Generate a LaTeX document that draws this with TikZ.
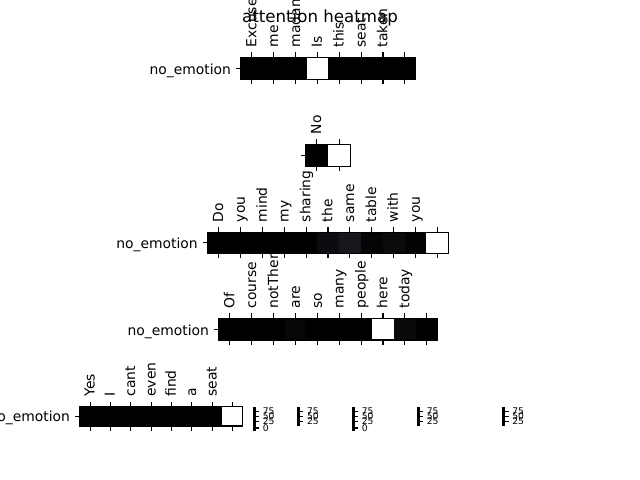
\documentclass[tikz,border=0pt]{standalone}
\usepackage{fontspec}
\setmainfont{DejaVu Sans}
\definecolor{rthree5}{HTML}{0C0C10}
\definecolor{rthree6}{HTML}{16161B}
\definecolor{rthree7}{HTML}{050507}
\definecolor{rthree8}{HTML}{0B0B0E}
\definecolor{rthree9}{HTML}{030304}
\definecolor{rfour3}{HTML}{060608}
\definecolor{rfour8}{HTML}{0A0A0D}
\newcommand{\heatrow}[8]{% #1 name, #2 x0, #3 y0, #4 cell size, #5 cell height, #6 n, #7 colours, #8 labels
  \foreach \hcol [count=\i from 0] in {#7} {
    \fill[\hcol] ({#2+\i*#4},#3) rectangle ({#2+(\i+1)*#4},{#3+#5});
    \draw[tickln] ({#2+(\i+0.5)*#4},#3) -- ++(0,-4.86);
    \draw[tickln] ({#2+(\i+0.5)*#4},{#3+#5}) -- ++(0,4.86);
  }
  \draw[spine] (#2,#3) rectangle ({#2+#6*#4},{#3+#5});
  \draw[tickln] (#2,{#3+#5/2}) -- ++(-4.86,0);
  \foreach \hlab [count=\i from 0] in {#8} {
    \node[toplab] (#1t\i) at ({#2+(\i+0.5)*#4},{#3-9.72}) {\hlab};
  }
}
\newcommand{\cbar}[4]{% #1 name, #2 x, #3 bottom y, #4 ticks list
  \fill[black] (#2,406.5) rectangle ({#2+2.8},#3);
  \foreach \tv/\ty [count=\i] in {#4} {
    \draw[tickln] ({#2+2.8},\ty) -- ++(3.5,0);
    \node[cblab] (#1l\i) at ({#2+9.8},\ty) {\tv};
  }
}
\begin{document}
\begin{tikzpicture}[x=0.72pt,y=-0.72pt,
  spine/.style={line width=0.8pt},
  tickln/.style={line width=0.8pt},
  toplab/.style={rotate=90,anchor=west,inner sep=0pt,font=\fontsize{10}{12}\selectfont,text height=7.5pt,text depth=1.2pt},
  ylab/.style={anchor=base east,inner sep=0pt,font=\fontsize{10}{12}\selectfont},
  cblab/.style={anchor=west,inner sep=0pt,font=\fontsize{6.6}{7.5}\selectfont},
]
\useasboundingbox (0,0) rectangle (640,480);
\clip (0,0) rectangle (640,480);

% row 1
\heatrow{ra}{241}{57.3}{21.85}{22}{8}{black,black,black,white,black,black,black,black}{Excuse,me,madam,Is,this,seat,taken}
\node[ylab] (ray) at (231.3,74) {no\_emotion};

% row 2
\heatrow{rb}{305.7}{144.3}{22.3}{21.8}{2}{black,white}{No}

% row 3
\heatrow{rc}{207.7}{232.2}{21.87}{21.4}{11}{black,black,black,black,black,rthree5,rthree6,rthree7,rthree8,rthree9,white}{Do,you,mind,my,sharing,the,same,table,with,you}
\node[ylab] (rcy) at (198,248.6) {no\_emotion};

% row 4
\heatrow{rd}{219}{318.3}{21.87}{21.7}{10}{black,black,black,rfour3,black,black,black,white,rfour8,black}{Of,course,notThere,are,so,many,people,here,today}
\node[ylab] (rdy) at (209.3,335) {no\_emotion};

% row 5
\heatrow{re}{80}{406.6}{20.33}{19.4}{8}{black,black,black,black,black,black,black,white}{Yes,I,cant,even,find,a,seat}
\node[ylab] (rey) at (70.3,421.9) {no\_emotion};

% colour bars
\cbar{ca}{252.7}{431}{75/411.5,50/416.5,25/421.5,0/428}
\cbar{cb}{297}{426}{75/411.5,50/416.5,25/421.5}
\cbar{cc}{351.8}{431}{75/411.5,50/416.5,25/421.5,0/428}
\cbar{cd}{416.7}{426}{75/411.5,50/416.5,25/421.5}
\cbar{ce}{502.3}{426}{75/411.5,50/416.5,25/421.5}

% title
\node[anchor=base,inner sep=0pt,font=\fontsize{12}{14}\selectfont] (title) at (320,22.3) {attention heatmap};
\end{tikzpicture}
\end{document}
